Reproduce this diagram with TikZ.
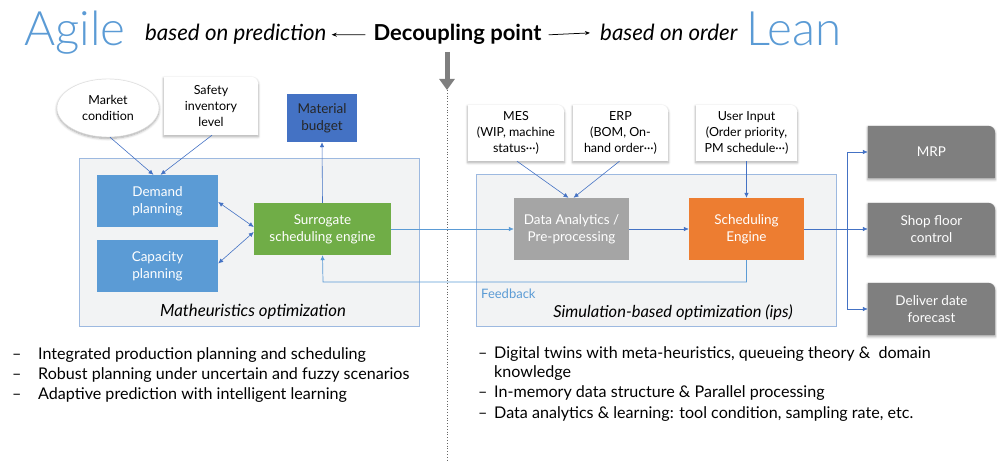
\documentclass[tikz,border=0pt]{standalone}
\usepackage{fontspec}
\setmainfont{Lato}
\newfontfamily\thinfont{Lato Light}
\usetikzlibrary{arrows.meta,shadows.blur,backgrounds,calc,shapes.geometric}
\definecolor{agile}{HTML}{5B9BD5}
\definecolor{myblue}{HTML}{5B9BD5}
\definecolor{darkblue}{HTML}{4472C4}
\definecolor{mygreen}{HTML}{70AD47}
\definecolor{myorange}{HTML}{ED7D31}
\definecolor{midgray}{HTML}{A5A5A5}
\definecolor{outgray}{HTML}{7F7F7F}
\definecolor{panelfill}{HTML}{F2F3F4}
\definecolor{panelline}{HTML}{9DB9E0}
\definecolor{arrblue}{HTML}{4472C4}
\definecolor{fbblue}{HTML}{5B9BD5}
\definecolor{downgray}{HTML}{7F7F7F}
\newcommand\myfs[2]{\fontsize{#1}{#2}\selectfont}
\newcommand\cornerbox[2]{%
  \fill[#2] (#1.south west) -- (#1.north west) -- ([xshift=-7pt]#1.north east)
    arc[start angle=90,end angle=0,radius=7pt] -- (#1.south east) -- cycle;}
\begin{document}
\begin{tikzpicture}[x=1pt,y=-1pt,
  arr/.style={draw=arrblue, line width=0.6pt, -{Latex[length=5pt,width=4.5pt]}},
  darr/.style={draw=arrblue, line width=0.6pt, {Latex[length=5pt,width=4.5pt]}-{Latex[length=5pt,width=4.5pt]}},
  fbarr/.style={draw=fbblue, line width=0.7pt, -{Latex[length=5pt,width=4.5pt]}},
  titlearr/.style={draw=black, line width=0.75pt, -{Stealth[length=5pt,width=4pt]}},
  panel/.style={draw=panelline, fill=panelfill, line width=0.8pt},
  solidbox/.style={rectangle, inner sep=0pt, align=center, text=white, font=\myfs{13.5}{17}},
  txtbox/.style={rectangle, inner sep=0pt, align=center, font=\myfs{12.5}{16}},
  shade/.style={blur shadow={shadow blur steps=6, shadow xshift=0pt, shadow yshift=-1.5pt, shadow opacity=35, shadow blur radius=2.5pt}},
  bullet/.style={anchor=base west, inner sep=0pt, font=\myfs{16.1}{18}},
  ]
\useasboundingbox (0,0) rectangle (997,462);

% ---- title row
\node[anchor=base west, inner sep=0pt, font=\thinfont\myfs{47.5}{47.5}, text=agile] (agile) at (24,46) {Agile};
\node[anchor=base west, inner sep=0pt, font=\itshape\myfs{22.3}{22}] (pred) at (145,41) {based on prediction};
\node[anchor=base, inner sep=0pt, font=\bfseries\myfs{22}{22}] (dec) at (457.5,41) {Decoupling point};
\node[anchor=base west, inner sep=0pt, font=\itshape\myfs{22.3}{22}] (ord) at (600,41) {based on order};
\node[anchor=base west, inner sep=0pt, font=\thinfont\myfs{47.5}{47.5}, text=agile] (lean) at (746,46) {Lean};
\draw[titlearr] ([xshift=-8pt]dec.west) -- ([xshift=5pt]pred.east);
\draw[titlearr] ([xshift=7pt]dec.east) -- ([xshift=-10pt]ord.west);
\coordinate (dtop) at (447,52);
\coordinate (dbot) at (447,90);
\coordinate (dend) at (447,462);
\draw[line width=5pt, draw=downgray, -{Triangle[length=11pt,width=15pt]}] (dtop) -- (dbot);
\draw[dotted, line width=0.8pt, black!60] (dbot) -- (dend);

% ---- panels
\draw[panel] (79,158) rectangle (419,326);
\draw[panel] (476,174) rectangle (836,326);

% ---- left nodes
\node[ellipse, draw=black!15, fill=white, shade, minimum width=102pt, minimum height=58pt, inner sep=0pt, align=center, font=\myfs{12.5}{16}] (mkt) at (108,108) {Market\\condition};
\node[txtbox, minimum width=94pt, minimum height=58pt] (safe) at (211,106) {Safety\\inventory\\level};
\node[solidbox, fill=darkblue, text=black!85, minimum width=70pt, minimum height=48pt] (mat) at (322,118) {Material\\budget};
\node[solidbox, fill=myblue, minimum width=121pt, minimum height=52pt] (dem) at (157.5,201) {Demand\\planning};
\node[solidbox, fill=myblue, minimum width=121pt, minimum height=52pt] (cap) at (157.5,266.5) {Capacity\\planning};
\node[solidbox, fill=mygreen, minimum width=137pt, minimum height=52pt] (sur) at (322.5,229) {Surrogate\\scheduling engine};
\node[inner sep=0pt, font=\itshape\myfs{16.8}{17}] (mlab) at (253,312) {Matheuristics optimization};

% ---- right nodes
\node[txtbox, minimum width=96pt, minimum height=56pt] (mes) at (516,133) {MES\\(WIP, machine\\status···)};
\node[txtbox, minimum width=95pt, minimum height=56pt] (erp) at (620.5,133) {ERP\\(BOM, On-\\hand order···)};
\node[txtbox, minimum width=101pt, minimum height=56pt] (usr) at (746.5,133) {User Input\\(Order priority,\\PM schedule···)};
\node[solidbox, fill=midgray, minimum width=115pt, minimum height=62pt] (da) at (571.5,229) {Data Analytics /\\Pre-processing};
\node[solidbox, fill=myorange, minimum width=115pt, minimum height=62pt] (sch) at (746.5,229) {Scheduling\\Engine};
\node[solidbox, minimum width=127pt, minimum height=52pt] (mrp) at (931.5,152) {MRP};
\node[solidbox, minimum width=127pt, minimum height=52pt] (shop) at (931.5,229) {Shop floor\\control};
\node[solidbox, minimum width=127pt, minimum height=52pt] (del) at (931.5,309) {Deliver date\\forecast};
\node[anchor=west, inner sep=0pt, text=fbblue, font=\myfs{13}{13}] (fb) at (481,294) {Feedback};
\node[inner sep=0pt, font=\itshape\myfs{16.5}{17}] (slab) at (673,313) {Simulation-based optimization (ips)};

% ---- corner-rounded box backgrounds
\begin{scope}[on background layer]
\cornerbox{safe}{white, shade}
\cornerbox{mes}{white, shade}
\cornerbox{erp}{white, shade}
\cornerbox{usr}{white, shade}
\cornerbox{mrp}{outgray, shade}
\cornerbox{shop}{outgray, shade}
\cornerbox{del}{outgray, shade}
\end{scope}

% ---- connectors left
\draw[arr] ([xshift=2pt]mkt.south) -- ([xshift=-4pt]dem.north);
\draw[arr] ([xshift=1pt]safe.south) -- ([xshift=3pt]dem.north);
\draw[darr] ([yshift=-1pt]dem.east) -- ([yshift=2pt]sur.west);
\draw[darr] ([yshift=3pt]cap.east) -- ([yshift=-3pt]sur.west);
\draw[arr] (sur.north) -- (mat.south);
\draw[arr, draw=fbblue] (sur.east) -- (da.west);
\coordinate (fbturn) at (323,282);
\draw[fbarr] (sch.south) |- (fbturn) -- (sur.south);

% ---- connectors right
\draw[arr] ([xshift=1pt]mes.south) -- ([xshift=-3pt]da.north);
\draw[arr] ([xshift=-1pt]erp.south) -- ([xshift=2pt]da.north);
\draw[arr] (usr.south) -- (sch.north);
\draw[arr] (da.east) -- (sch.west);
\coordinate (split) at (847,229);
\draw[arr, -] (sch.east) -- (split);
\draw[arr] (split) |- (mrp.west);
\draw[arr] (split) -- (shop.west);
\draw[arr] (split) |- (del.west);

% ---- bullets
\node[bullet] (l1d) at (12,360) {–};
\node[bullet] (l1) at (38,360) {Integrated production planning and scheduling};
\node[bullet] (l2d) at (12,380) {–};
\node[bullet] (l2) at (38,380) {Robust planning under uncertain and fuzzy scenarios};
\node[bullet] (l3d) at (12,400) {–};
\node[bullet] (l3) at (38,400) {Adaptive prediction with intelligent learning};

\node[bullet] (r1d) at (478,359) {–};
\node[bullet] (r1) at (494,359) {Digital twins with meta-heuristics, queueing theory \&\ \ domain};
\node[bullet] (r1b) at (494,378) {knowledge};
\node[bullet] (r2d) at (478,398) {–};
\node[bullet] (r2) at (494,398) {In-memory data structure \& Parallel processing};
\node[bullet] (r3d) at (478,419) {–};
\node[bullet] (r3) at (494,419) {Data analytics \& learning: tool condition, sampling rate, etc.};
\end{tikzpicture}
\end{document}
